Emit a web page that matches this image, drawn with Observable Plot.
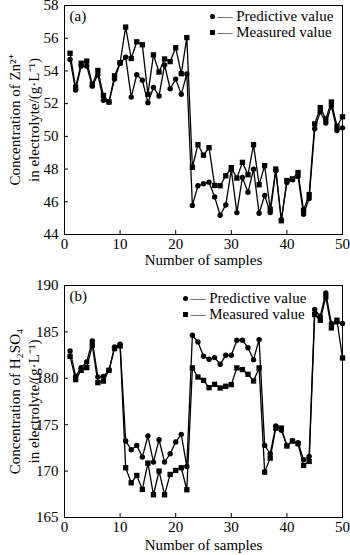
<!DOCTYPE html>
<html>
<head>
<meta charset="utf-8">
<script src="https://cdn.jsdelivr.net/npm/d3@7"></script>
<script src="https://cdn.jsdelivr.net/npm/@observablehq/plot@0.6"></script>
<style>
  html, body { margin: 0; padding: 0; background: white; }
  #root { width: 350px; }
  svg { display: block; }
</style>
</head>
<body>
<div id="root"></div>
<script>
const samples = d3.range(1, 51);
const xTicks = [0, 10, 20, 30, 40, 50];

const zincPred = [54.7, 52.83, 54.3, 54.3, 53.07, 53.77, 52.2, 52.1, 53.5, 54.47,
  54.84, 52.4, 53.77, 53.43, 52.06, 52.99, 52.47, 54.37, 52.91, 53.5,
  52.57, 53.81, 45.78, 46.98, 47.1, 47.2, 46.3, 45.18, 45.8, 47.95,
  45.34, 47.49, 46.58, 47.99, 45.3, 46.38, 45.34, 47.9, 44.9, 47.18,
  47.35, 47.55, 45.24, 46.2, 50.46, 51.5, 50.82, 51.86, 50.36, 50.52];
const zincMeas = [55.08, 53.0, 54.47, 54.6, 53.17, 54.03, 52.5, 52.1, 53.7, 54.5,
  56.68, 54.76, 55.78, 55.6, 52.57, 54.98, 53.93, 54.73, 54.57, 55.42,
  53.83, 56.04, 48.11, 49.49, 48.85, 49.31, 47.0, 46.98, 47.59, 48.09,
  47.45, 48.41, 47.65, 49.49, 47.04, 48.21, 45.54, 48.0, 44.84, 47.3,
  47.4, 47.79, 45.48, 46.44, 50.76, 51.76, 51.06, 52.1, 50.62, 51.2];
const zincTicks = [44, 46, 48, 50, 52, 54, 56, 58];

const acidPred = [182.95, 180.2, 181.15, 181.76, 184.03, 180.14, 180.2, 180.86, 183.38, 183.67,
  173.24, 172.3, 172.77, 171.51, 173.78, 170.97, 173.38, 170.97, 171.87, 173.13,
  173.96, 170.5, 184.64, 183.92, 182.37, 182.05, 182.23, 181.51, 182.48, 182.48,
  184.1, 184.1, 183.3, 182.01, 184.17, 172.77, 171.87, 174.86, 174.39, 172.77,
  173.24, 173.06, 171.22, 171.58, 187.41, 186.69, 189.21, 185.9, 186.08, 185.9];
const acidMeas = [182.37, 179.86, 180.86, 181.15, 183.56, 179.53, 179.7, 180.86, 183.2, 183.49,
  170.36, 168.74, 169.53, 168.02, 170.86, 167.45, 170.0, 167.45, 169.64, 170.07,
  170.36, 167.99, 181.12, 180.14, 179.78, 178.99, 179.35, 178.96, 179.14, 179.32,
  181.12, 180.94, 180.43, 179.71, 181.12, 169.89, 171.4, 174.64, 174.64, 172.7,
  173.24, 172.95, 170.61, 171.04, 186.87, 186.26, 188.78, 185.43, 186.26, 182.19];
const acidTicks = [165, 170, 175, 180, 185, 190];

const seriesNames = ["Predictive value", "Measured value"];
const xTitle = "Number of samples";

function chart(o) {
  const data = samples.map((s, i) => ({s, p: o.pred[i], m: o.meas[i]}));
  const font = "'Liberation Serif', 'Times New Roman', serif";
  return Plot.plot({
    width: 350,
    height: o.height,
    marginLeft: 64,
    marginRight: 8,
    marginTop: o.mt,
    marginBottom: o.mb,
    style: {fontFamily: font, fontSize: "15px", color: "black", background: "white", overflow: "visible"},
    x: {domain: [0, 50]},
    y: {domain: o.yDomain},
    marks: [
      Plot.frame({stroke: "black", strokeWidth: 1}),
      Plot.axisX({ticks: xTicks, tickSize: -4, tickPadding: 8, label: null, fontSize: 15}),
      Plot.axisY({ticks: o.yTicks, tickSize: -4, tickPadding: 10, label: null, fontSize: 15}),
      Plot.line(data, {x: "s", y: "m", stroke: "black", strokeWidth: 1.3}),
      Plot.line(data, {x: "s", y: "p", stroke: "black", strokeWidth: 1.3}),
      Plot.dot(data, {x: "s", y: "m", symbol: "square", fill: "black", r: 3}),
      Plot.dot(data, {x: "s", y: "p", symbol: "circle", fill: "black", r: 2.7}),
      // panel label
      Plot.text([o.panel], {frameAnchor: "top-left", dx: 5, dy: 11, text: d => d, textAnchor: "start", lineAnchor: "middle", fontSize: 15}),
      // legend
      Plot.dot([0], {frameAnchor: "top-left", dx: o.lx, dy: o.ly, symbol: "circle", r: 2.5, fill: "black"}),
      Plot.dot([0], {frameAnchor: "top-left", dx: o.lx, dy: o.ly + 16, symbol: "square", r: 2.8, fill: "black"}),
      Plot.text([seriesNames[0]], {frameAnchor: "top-left", dx: o.lx + 5, dy: o.ly, text: d => "— " + d, textAnchor: "start", lineAnchor: "middle", fontSize: 15}),
      Plot.text([seriesNames[1]], {frameAnchor: "top-left", dx: o.lx + 5, dy: o.ly + 16, text: d => "— " + d, textAnchor: "start", lineAnchor: "middle", fontSize: 15}),
      // x title
      Plot.text([xTitle], {frameAnchor: "bottom", dy: o.xt, text: d => d, textAnchor: "middle", lineAnchor: "middle", fontSize: 15}),
      // y title (two lines)
      Plot.text([o.yLabel], {frameAnchor: "left", dx: -41, rotate: -90, text: d => d, textAnchor: "middle", lineAnchor: "middle", lineHeight: 1.28, fontSize: 15})
    ]
  });
}

const root = document.getElementById("root");
root.append(chart({
  pred: zincPred, meas: zincMeas, yDomain: [44, 58], yTicks: zincTicks,
  height: 277, mt: 5, mb: 43, panel: "(a)", lx: 148, ly: 11, xt: 26,
  yLabel: "Concentration of Zn\u00B2\u207A\nin electrolyte/(g\u00B7L\u207B\u00B9)"
}));
root.append(chart({
  pred: acidPred, meas: acidMeas, yDomain: [165, 190], yTicks: acidTicks,
  height: 278, mt: 8, mb: 38, panel: "(b)", lx: 121, ly: 13, xt: 28,
  yLabel: "Concentration of H\u2082SO\u2084\nin electrolyte/(g\u00B7L\u207B\u00B9)"
}));
</script>
</body>
</html>
